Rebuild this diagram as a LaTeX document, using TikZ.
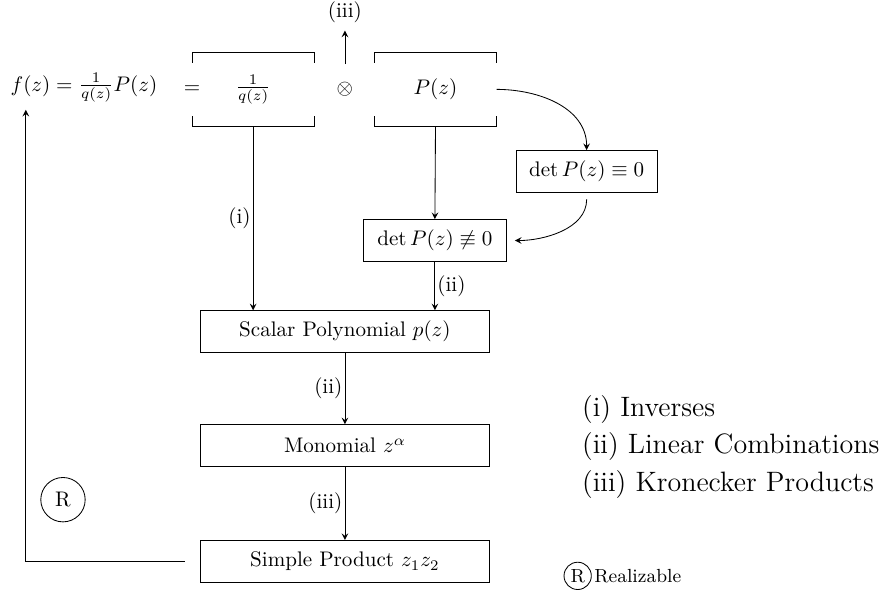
\documentclass[tikz,border=0pt]{standalone}
\usepackage{amsmath, amssymb, amsfonts}
\usepackage{tikz}

\tikzset{
  box/.style={draw, minimum height=0.7cm, inner sep=3pt},
  wide/.style={box, minimum width=4.83cm},
  bracket/.style={minimum width=2.02cm, minimum height=1.22cm, inner sep=0pt},
  lbl/.style={inner sep=1pt},
  legend/.style={anchor=west, font=\fontsize{13.3}{16}\selectfont},
}

\begin{document}
\begin{tikzpicture}[>=stealth]
  \useasboundingbox (0,0) rectangle (14.72,9.98);
  % top row
  \node (fz) at (1.40,8.52) {$f(z)=\frac{1}{q(z)}P(z)$};
  \node[bracket] (qbox) at (4.22,8.49) {$\frac{1}{q(z)}$};
  \node[bracket] (pbox) at (7.26,8.49) {$P(z)$};
  \node (eq) at (qbox.west) {$=$};
  \node (kron) at (5.75,8.49) {$\otimes$};
  \node (kronlbl) at (5.75,9.77) {(iii)};
  \draw ([yshift=-0.17cm]qbox.north west) -- (qbox.north west) -- (qbox.north east) -- ++(0,-0.17);
  \draw ([yshift=0.17cm]qbox.south west) -- (qbox.south west) -- (qbox.south east) -- ++(0,0.17);
  \draw ([yshift=-0.17cm]pbox.north west) -- (pbox.north west) -- (pbox.north east) -- ++(0,-0.17);
  \draw ([yshift=0.17cm]pbox.south west) -- (pbox.south west) -- (pbox.south east) -- ++(0,0.17);
  \draw[->] ([yshift=0.18cm]kron.north) -- (kronlbl.south);

  % determinant cases
  \node[box, minimum width=2.35cm] (detz) at (9.78,7.12) {$\det P(z)\equiv 0$};
  \node[box, minimum width=2.37cm] (detn) at (7.25,5.97) {$\det P(z)\not\equiv 0$};
  \draw[->] (pbox.east) to[out=0,in=90] (detz.north);
  \draw[->, shorten <=3pt, shorten >=4pt] (detz.south) to[out=-90,in=0] (detn.east);
  \draw[->] (pbox.south) -- (detn.north);

  % chain
  \node[wide] (scalar) at (5.75,4.45) {Scalar Polynomial $p(z)$};
  \node[wide] (mono) at (5.75,2.55) {Monomial $z^\alpha$};
  \node[wide] (simple) at (5.75,0.62) {Simple Product $z_1z_2$};
  \draw[->] (qbox.south) -- (qbox.south |- scalar.north) node[lbl, midway, left] {(i)};
  \draw[->] (detn.south) -- (detn.south |- scalar.north) node[lbl, midway, right] {(ii)};
  \draw[->] (scalar) -- (mono) node[lbl, midway, left] {(ii)};
  \draw[->] (mono) -- (simple) node[lbl, midway, left] {(iii)};

  % feedback
  \coordinate (fbstart) at ([xshift=-0.25cm]simple.west);
  \coordinate (fbend) at (0.43,8.15);
  \draw[->] (fbstart) -- (fbend |- fbstart) -- (fbend);
  \node[draw, circle, minimum size=0.74cm, inner sep=0pt] (real) at (1.05,1.65) {R};

  % legend
  \node[legend] (leg1) at (9.58,3.15) {(i) Inverses};
  \node[legend] (leg2) at (9.58,2.53) {(ii) Linear Combinations};
  \node[legend] (leg3) at (9.58,1.90) {(iii) Kronecker Products};
  \node[draw, circle, inner sep=1.3pt, font=\small] (legr) at (9.63,0.38) {R};
  \node[anchor=west, font=\small, inner sep=1pt] (legrt) at (legr.east) {Realizable};
\end{tikzpicture}
\end{document}
